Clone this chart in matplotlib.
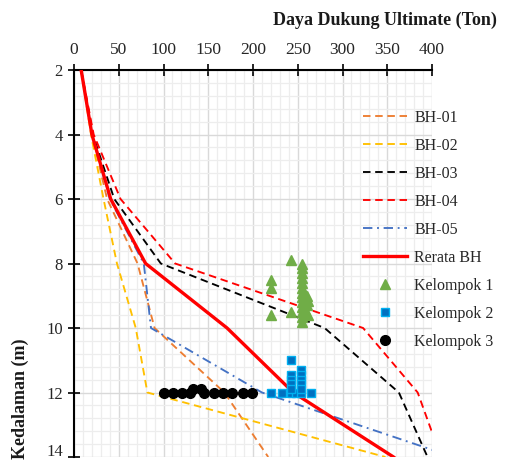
import matplotlib
matplotlib.use("Agg")
import matplotlib.pyplot as plt
from matplotlib.ticker import MultipleLocator, FuncFormatter

plt.rcParams['font.family'] = ['Liberation Serif', 'DejaVu Serif']

# Depth (m)
depth = [2, 4, 6, 8, 10, 12, 14]

# Ultimate bearing capacity (Ton) per borehole
bh01 = [8, 20, 37, 71, 90, 168, 217]
bh02 = [8, 19, 33, 48, 69, 82, 348]
bh03 = [8, 21, 45, 97, 280, 363, 395]
bh04 = [8, 22, 52, 113, 323, 384, 410]
bh05 = [8, 20, 40, 78, 86, 210, 424]
rerata = [8, 20, 41, 80, 171, 245, 357]

# Kelompok 1 (triangles)
k1_x = [243, 255, 255, 255, 255, 255, 255, 255, 255, 255, 255, 255, 255, 255,
        220, 220, 220, 243, 260, 262, 260, 258, 261]
k1_y = [7.9, 8.0, 8.15, 8.3, 8.45, 8.6, 8.75, 8.9, 9.05, 9.2, 9.35, 9.5, 9.65, 9.8,
        8.5, 8.75, 9.6, 9.5, 9.0, 9.15, 9.3, 9.45, 9.6]
# Kelompok 2 (squares)
k2_x = [220, 232, 243, 248, 254, 265, 243, 243, 243, 243, 243, 254, 254, 254, 254, 254]
k2_y = [12, 12, 12, 12, 12, 12, 11.0, 11.45, 11.6, 11.75, 11.88, 11.3, 11.45, 11.6, 11.75, 11.88]
# Kelompok 3 (circles)
k3_x = [100, 111, 121, 130, 133, 142, 145, 156, 167, 177, 189, 199]
k3_y = [12, 12, 12, 12, 11.9, 11.9, 12, 12, 12, 12, 12, 12]

fig = plt.figure(figsize=(5.05, 4.63), dpi=100)
ax = fig.add_axes([74/505, 1-457/463, 358/505, 387/463])

dash = (0, (4, 2.5))
dashdot = (0, (5, 2.5, 1, 2.5))
ax.plot(bh01, depth, color='#ED7D31', lw=1.35, ls=dash, label='BH-01', zorder=3)
ax.plot(bh02, depth, color='#FFC000', lw=1.35, ls=dash, label='BH-02', zorder=3)
ax.plot(bh03, depth, color='#000000', lw=1.35, ls=dash, label='BH-03', zorder=3)
ax.plot(bh04, depth, color='#FF0000', lw=1.35, ls=dash, label='BH-04', zorder=3)
ax.plot(bh05, depth, color='#4472C4', lw=1.35, ls=dashdot, label='BH-05', zorder=3)
ax.plot(rerata, depth, color='#FF0000', lw=2.4, ls='-', label='Rerata BH', zorder=4)

ax.plot(k1_x, k1_y, ls='none', marker='^', ms=7, color='#70AD47', mec='#70AD47',
        label='Kelompok 1', zorder=5)
ax.plot(k2_x, k2_y, ls='none', marker='s', ms=5.5, mfc='#0070C0', mec='#00B0F0', mew=1,
        label='Kelompok 2', zorder=5)
ax.plot(k3_x, k3_y, ls='none', marker='o', ms=7, color='#000000', label='Kelompok 3', zorder=5)

ymax = 14
ax.set_xlim(0, 400)
ax.set_ylim(ymax, 2)
ax.xaxis.tick_top()
ax.xaxis.set_major_locator(MultipleLocator(50))
ax.xaxis.set_minor_locator(MultipleLocator(10))
ax.yaxis.set_major_locator(MultipleLocator(2))
ax.yaxis.set_minor_locator(MultipleLocator(0.4))
# the bottom label is drawn separately (nudged up so it stays in the figure)
ax.yaxis.set_major_formatter(FuncFormatter(lambda v, p: '' if abs(v - ymax) < 1e-6 else f'{v:g}'))
ax.set_axisbelow(True)
ax.grid(which='major', color='#D9D9D9', lw=1.0)
ax.grid(which='minor', color='#EDEDED', lw=0.9)
ax.tick_params(which='minor', length=0, top=False, left=False)
ax.tick_params(which='major', direction='inout', length=8, width=1.2,
               labelsize=12.5, labelcolor='#262626')
ax.tick_params(axis='y', labelsize=12)
ax.tick_params(axis='x', pad=5)
ax.tick_params(axis='y', pad=4)
for s in ['right', 'bottom']:
    ax.spines[s].set_visible(False)
for s in ['top', 'left']:
    ax.spines[s].set_linewidth(1.5)
    ax.spines[s].set_color('black')

ax.annotate(f'{ymax:g}', xy=(0, ymax), xycoords=('axes fraction', 'data'),
            xytext=(-8, 3.5), textcoords='offset points', ha='right', va='center',
            fontsize=12, color='#262626', annotation_clip=False)

fig.text(497/505, 1-20/463, 'Daya Dukung Ultimate (Ton)', ha='right', va='center',
         fontweight='bold', fontsize=13, color='#1a1a1a')
fig.text(20/505, 1-399/463, 'Kedalaman (m)', rotation=90, ha='center', va='center',
         fontweight='bold', fontsize=13, color='#1a1a1a')

leg = ax.legend(loc='upper left', bbox_to_anchor=(363/505, 1-110/463),
                bbox_transform=fig.transFigure, frameon=False, fontsize=11.5,
                handlelength=2.75, handletextpad=0.45, labelspacing=0.75,
                borderpad=0, borderaxespad=0, numpoints=1)
for t in leg.get_texts():
    t.set_color('#262626')

fig.savefig('out.png', dpi=100)
